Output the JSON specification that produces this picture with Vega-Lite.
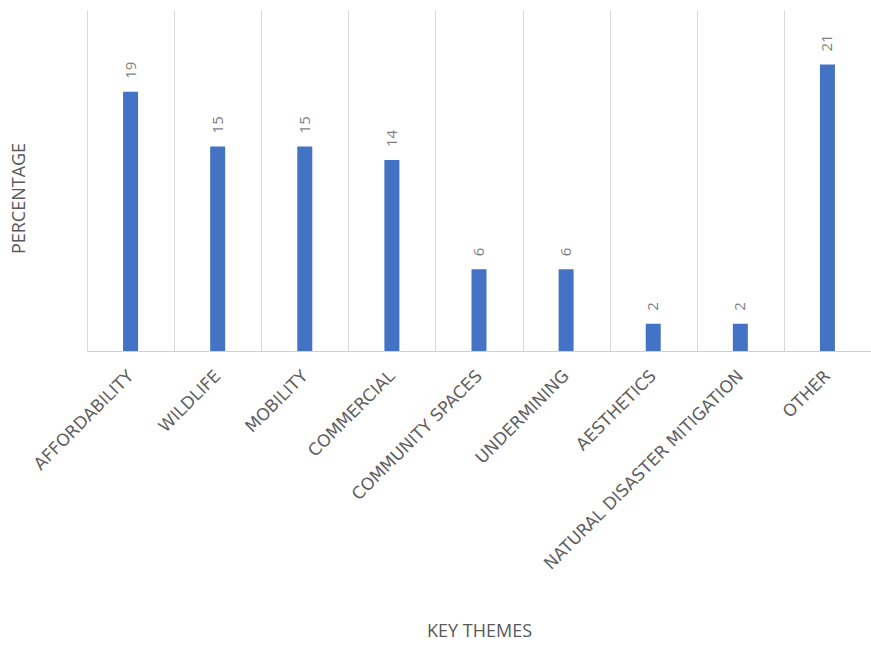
{
  "$schema": "https://vega.github.io/schema/vega-lite/v6.json",
  "autosize": "none",
  "width": 784,
  "height": 341,
  "padding": {"left": 87, "top": 10, "right": 0, "bottom": 305},
  "background": "white",
  "config": {
    "view": {"stroke": null},
    "font": "Open Sans"
  },
  "data": {
    "values": [
      {"theme": "AFFORDABILITY", "pct": 19},
      {"theme": "WILDLIFE", "pct": 15},
      {"theme": "MOBILITY", "pct": 15},
      {"theme": "COMMERCIAL", "pct": 14},
      {"theme": "COMMUNITY SPACES", "pct": 6},
      {"theme": "UNDERMINING", "pct": 6},
      {"theme": "AESTHETICS", "pct": 2},
      {"theme": "NATURAL DISASTER MITIGATION", "pct": 2},
      {"theme": "OTHER", "pct": 21}
    ]
  },
  "encoding": {
    "x": {
      "field": "theme",
      "type": "nominal",
      "sort": null,
      "title": "KEY THEMES",
      "scale": {"paddingInner": 0, "paddingOuter": 0},
      "axis": {
        "labelAngle": -45,
        "labelAlign": "right",
        "labelBaseline": "middle",
        "labelPadding": 22,
        "labelFontSize": 17,
        "labelColor": "#606060",
        "labelFont": "DejaVu Sans",
        "labelLimit": 500,
        "ticks": false,
        "grid": true,
        "gridColor": "#d9d9d9",
        "tickBand": "extent",
        "domain": true,
        "domainColor": "#d0d0d0",
        "titleColor": "#595959",
        "titleFontSize": 18,
        "titleFontWeight": "normal",
        "titlePadding": 71
      }
    },
    "y": {
      "field": "pct",
      "type": "quantitative",
      "title": "PERCENTAGE",
      "scale": {"domain": [0, 25], "nice": false},
      "axis": {
        "labels": false,
        "ticks": false,
        "domain": false,
        "grid": false,
        "titleColor": "#595959",
        "titleFontSize": 18,
        "titleFontWeight": "normal",
        "titlePadding": 59,
        "titleY": 188
      }
    }
  },
  "layer": [
    {"mark": {"type": "bar", "width": 15, "color": "#4472C4"}},
    {
      "mark": {"type": "text", "angle": -90, "align": "left", "baseline": "middle", "dx": 13, "fontSize": 15, "color": "#7f7f7f"},
      "encoding": {"text": {"field": "pct", "type": "quantitative"}}
    }
  ]
}
